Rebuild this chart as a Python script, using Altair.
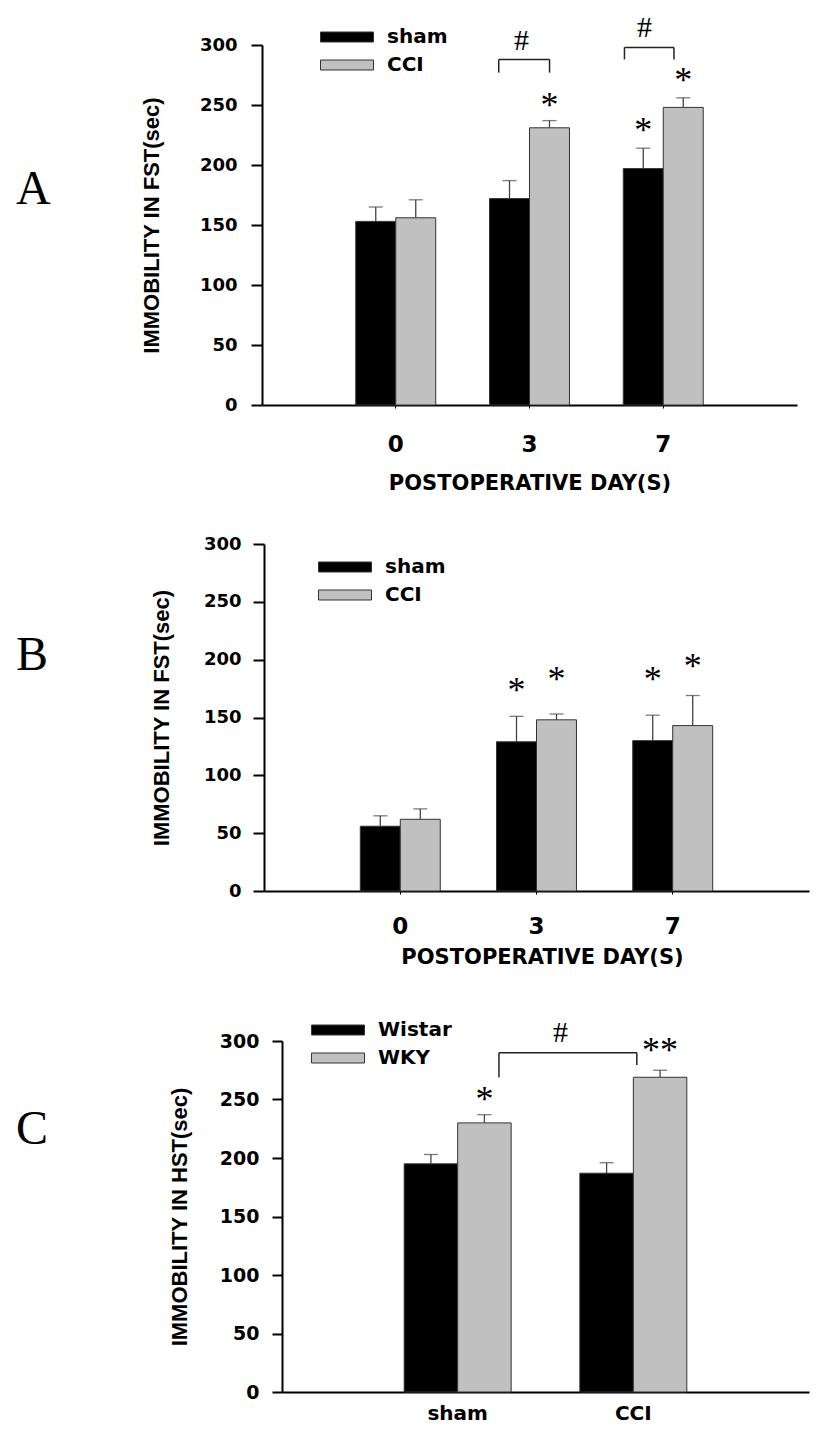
import altair as alt
import pandas as pd

# ---------------- Panel A (FST, days) ----------------
A_days = ["0", "3", "7"]
A_groups = ["sham", "CCI"]
A_sham_mean = [153, 172, 197]
A_sham_sem = [12, 15, 17]
A_cci_mean = [156, 231, 248]
A_cci_sem = [15, 6, 8]
A_star_day = ["3", "7", "7"]
A_star_group = ["CCI", "sham", "CCI"]
A_star_text = ["*", "*", "*"]
A_star_y = [254, 233, 275]
A_bracket_left = [1.77, 2.71]
A_bracket_right = [2.15, 3.08]
A_bracket_top = [288, 298]
A_bracket_leg_left = [277, 288]
A_bracket_leg_right = [277, 288]
A_hash_x = [1.94, 2.86]
A_hash_y = [303, 314]

# ---------------- Panel B (FST, days) ----------------
B_days = ["0", "3", "7"]
B_groups = ["sham", "CCI"]
B_sham_mean = [56, 129, 130]
B_sham_sem = [9, 22, 22]
B_cci_mean = [62, 148, 143]
B_cci_sem = [9, 5, 26]
B_star_day = ["3", "3", "7", "7"]
B_star_group = ["sham", "CCI", "sham", "CCI"]
B_star_text = ["*", "*", "*", "*"]
B_star_y = [178, 188, 188, 199]

# ---------------- Panel C (HST, strains) ----------------
C_cats = ["sham", "CCI"]
C_groups = ["Wistar", "WKY"]
C_wistar_mean = [195, 187]
C_wistar_sem = [8, 9]
C_wky_mean = [230, 269]
C_wky_sem = [7, 6]
C_star_cat = ["sham", "CCI"]
C_star_group = ["WKY", "WKY"]
C_star_text = ["*", "**"]
C_star_y = [255, 297]
C_bracket_left = [1.235]
C_bracket_right = [2.02]
C_bracket_top = [290]
C_bracket_leg_left = [269]
C_bracket_leg_right = [279.5]
C_hash_x = [1.585]
C_hash_y = [307]

Y_TICKS = [0, 50, 100, 150, 200, 250, 300]
BAR_COLORS = ["#000000", "#c0c0c0"]

SANS = "DejaVu Sans"
ARIAL = "Liberation Sans"
SERIF = "Liberation Serif"


def bars_df(cats, groups, means, sems):
    rows = []
    for g, ml, sl in zip(groups, means, sems):
        for c, m, s in zip(cats, ml, sl):
            rows.append({"cat": c, "group": g, "mean": m, "upper": m + s})
    return pd.DataFrame(rows)


def make_panel(cats, groups, means, sems, stars, brackets, hashes, letter, P):
    W, H, X0 = P["w"], P["h"], P["x0"]
    df = bars_df(cats, groups, means, sems)

    xscale = alt.Scale(domain=cats, paddingInner=P["pi"], paddingOuter=P["po"],
                       range=[X0, W])
    oscale = alt.Scale(domain=groups, paddingInner=0, paddingOuter=0)
    yscale = alt.Scale(domain=[0, 300], nice=False, zero=True)

    xax = dict(labelAngle=0, labelFont=SANS, labelFontWeight="bold",
               labelFontSize=P["xl_size"], labelColor="black",
               labelPadding=P["xl_pad"], domainColor="black", domainWidth=2,
               grid=False)
    if P["xticks"]:
        xax.update(ticks=True, tickSize=3, tickColor="black", tickWidth=1)
    else:
        xax.update(ticks=False)
    if P["xtitle"]:
        xax.update(titleFont=SANS, titleFontWeight="bold", titleFontSize=21,
                   titleColor="black", titleX=P["xt_x"],
                   titleY=P["xt_y"], titleBaseline="top", titleAlign="center")
    xaxis = alt.Axis(**xax)

    yaxis = alt.Axis(values=Y_TICKS, labelFont=SANS, labelFontWeight="bold",
                     labelFontSize=P["yl_size"], labelColor="black",
                     labelPadding=P["yl_pad"], tickSize=P["ytick"], tickWidth=2,
                     tickColor="black", domainColor="black", domainWidth=2,
                     grid=False, titleFont=ARIAL, titleFontWeight="bold",
                     titleFontSize=22, titleColor="black", titleAngle=270,
                     titleBaseline="bottom", titleAlign="center",
                     titleX=P["yt_x"], titleY=H / 2, offset=-X0)

    def X():
        if P["xtitle"]:
            return alt.X("cat:N", scale=xscale, axis=xaxis, title=P["xtitle"], sort=cats)
        return alt.X("cat:N", scale=xscale, axis=xaxis, title=None, sort=cats)

    def XO():
        return alt.XOffset("group:N", scale=oscale, sort=groups)

    def Y(field):
        return alt.Y(f"{field}:Q", scale=yscale, axis=yaxis, title=P["ytitle"])

    legend = alt.Legend(title=None, orient="none", legendX=P["lg_x"],
                        legendY=P["lg_y"], direction="vertical",
                        symbolType="M-5.3,-1H5.3V1H-5.3Z", symbolSize=100,
                        symbolStrokeColor="#333333", symbolStrokeWidth=1,
                        symbolOpacity=1, labelFont=SANS, labelFontWeight="bold",
                        labelFontSize=20, labelColor="black", labelOffset=30,
                        rowPadding=8, padding=0)

    base = alt.Chart(df)
    bars = base.mark_bar(stroke="#333333", strokeWidth=1).encode(
        x=X(), xOffset=XO(), y=Y("mean"),
        color=alt.Color("group:N", scale=alt.Scale(domain=groups, range=BAR_COLORS),
                        legend=legend, sort=groups))
    err = base.mark_rule(color="#444444", strokeWidth=1.3).encode(
        x=X(), xOffset=XO(), y=Y("mean"), y2="upper:Q")
    caps = base.mark_tick(color="#444444", thickness=1.3, size=14).encode(
        x=X(), xOffset=XO(), y=Y("upper"))

    s_cat, s_grp, s_txt, s_y = stars
    sdf = pd.DataFrame({"cat": s_cat, "group": s_grp, "st": s_txt, "sy": s_y})
    star_layer = alt.Chart(sdf).mark_text(font=SERIF, fontSize=36, baseline="middle",
                                          dy=6, color="black").encode(
        x=X(), xOffset=XO(), y=Y("sy"), text="st:N")

    letter_layer = alt.Chart(pd.DataFrame({"t": [letter]})).mark_text(
        font=SERIF, fontSize=48, align="left", baseline="middle", color="black"
    ).encode(text="t:N", x=alt.value(P["let_x"]), y=alt.value(P["let_y"]))

    top_mark = alt.Chart(pd.DataFrame({"m": [0]})).mark_rule(opacity=0).encode(
        x=alt.value(0), x2=alt.value(1), y=alt.value(-36), y2=alt.value(-36))
    layers = [bars, err, caps, star_layer, letter_layer, top_mark]
    if P.get("bot") is not None:
        bot_mark = alt.Chart(pd.DataFrame({"m": [0]})).mark_rule(opacity=0).encode(
            x=alt.value(0), x2=alt.value(1), y=alt.value(H + P["bot"]),
            y2=alt.value(H + P["bot"]))
        layers.append(bot_mark)
    main = alt.layer(*layers)

    if brackets is None:
        return main.properties(width=W, height=H)

    bl, br, bt, bll, blr = brackets
    segs = []
    for l, r, t, ll, lr in zip(bl, br, bt, bll, blr):
        segs.append({"x1": l, "x2": r, "y1": t, "y2": t})
        segs.append({"x1": l, "x2": l, "y1": t, "y2": ll})
        segs.append({"x1": r, "x2": r, "y1": t, "y2": lr})
    segdf = pd.DataFrame(segs)
    qx = alt.Scale(domain=[0, len(cats) + 1], nice=False, zero=False, range=[X0, W])
    seg_layer = alt.Chart(segdf).mark_rule(color="#222222", strokeWidth=1.5).encode(
        x=alt.X("x1:Q", scale=qx, axis=None), x2="x2:Q",
        y=Y("y1"), y2="y2:Q")
    hx, hy = hashes
    hdf = pd.DataFrame({"hx": hx, "hy": hy, "h": ["#"] * len(hx)})
    hash_layer = alt.Chart(hdf).mark_text(font=SERIF, fontSize=30, baseline="middle",
                                          color="black").encode(
        x=alt.X("hx:Q", scale=qx, axis=None), y=Y("hy"), text="h:N")
    overlay = alt.layer(seg_layer, hash_layer)
    return alt.layer(main, overlay).resolve_scale(x="independent").properties(
        width=W, height=H)


PA = dict(w=535, h=360, x0=0, pi=0.402, po=0.701, xl_size=23, xl_pad=25, xticks=True,
          xtitle="POSTOPERATIVE DAY(S)", xt_x=267.5, xt_y=67,
          yl_size=18, yl_pad=14, ytick=11, yt_x=-98.5,
          ytitle="IMMOBILITY IN FST(sec)", lg_x=75, lg_y=-18,
          let_x=-246, let_y=145, bot=100)
PB = dict(w=547, h=347, x0=2, pi=0.413, po=0.707, xl_size=23, xl_pad=21, xticks=True,
          xtitle="POSTOPERATIVE DAY(S)", xt_x=280, xt_y=55,
          yl_size=18, yl_pad=12, ytick=11, yt_x=-90.5,
          ytitle="IMMOBILITY IN FST(sec)", lg_x=73, lg_y=13,
          let_x=-246, let_y=112, bot=111)
PC = dict(w=547, h=351, x0=20, pi=0.391, po=0.6955, xl_size=20, xl_pad=11, xticks=False,
          xtitle=None, xt_x=0, xt_y=0,
          yl_size=19, yl_pad=13, ytick=10, yt_x=-90.5,
          ytitle="IMMOBILITY IN HST(sec)", lg_x=66, lg_y=-21,
          let_x=-246, let_y=89, bot=None)

pA = make_panel(A_days, A_groups, [A_sham_mean, A_cci_mean], [A_sham_sem, A_cci_sem],
                (A_star_day, A_star_group, A_star_text, A_star_y),
                (A_bracket_left, A_bracket_right, A_bracket_top,
                 A_bracket_leg_left, A_bracket_leg_right),
                (A_hash_x, A_hash_y), "A", PA)
pB = make_panel(B_days, B_groups, [B_sham_mean, B_cci_mean], [B_sham_sem, B_cci_sem],
                (B_star_day, B_star_group, B_star_text, B_star_y),
                None, None, "B", PB)
pC = make_panel(C_cats, C_groups, [C_wistar_mean, C_wky_mean], [C_wistar_sem, C_wky_sem],
                (C_star_cat, C_star_group, C_star_text, C_star_y),
                (C_bracket_left, C_bracket_right, C_bracket_top,
                 C_bracket_leg_left, C_bracket_leg_right),
                (C_hash_x, C_hash_y), "C", PC)

chart = alt.vconcat(pA, pB, pC, spacing=1).resolve_scale(
    color="independent", x="independent", y="independent", xOffset="independent"
).properties(
    padding={"left": 7, "top": 0, "right": 5, "bottom": 5},
    background="white",
).configure_view(stroke="transparent")

chart.save("out.html", embed_options={"renderer": "svg", "actions": False})
